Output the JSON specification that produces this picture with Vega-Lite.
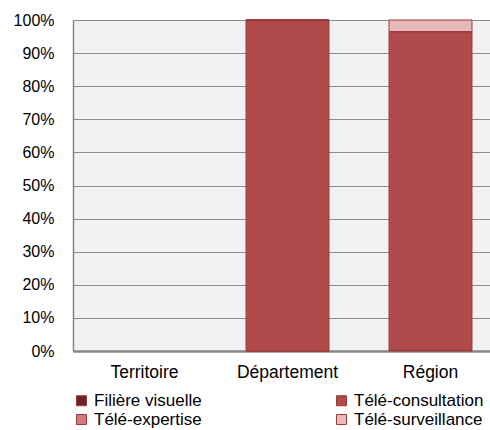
{
  "$schema": "https://vega.github.io/schema/vega-lite/v6.json",
  "autosize": {"type": "none"},
  "width": 417,
  "height": 331,
  "padding": {"left": 73, "top": 20, "right": 0, "bottom": 79},
  "background": "white",
  "config": {
    "font": "Liberation Sans",
    "view": {"fill": "#f2f2f2", "stroke": null}
  },
  "data": {
    "values": [
      {"zone": "Département", "type": "Filière visuelle", "value": 0},
      {"zone": "Département", "type": "Télé-consultation", "value": 1.0},
      {"zone": "Département", "type": "Télé-expertise", "value": 0},
      {"zone": "Département", "type": "Télé-surveillance", "value": 0},
      {"zone": "Région", "type": "Filière visuelle", "value": 0.002},
      {"zone": "Région", "type": "Télé-consultation", "value": 0.963},
      {"zone": "Région", "type": "Télé-expertise", "value": 0},
      {"zone": "Région", "type": "Télé-surveillance", "value": 0.035}
    ]
  },
  "transform": [
    {"calculate": "indexof(['Filière visuelle','Télé-consultation','Télé-expertise','Télé-surveillance'], datum.type)", "as": "ord"}
  ],
  "mark": {"type": "bar", "stroke": "#9a3a3b", "strokeWidth": 1},
  "encoding": {
    "x": {
      "field": "zone",
      "type": "nominal",
      "scale": {"domain": ["Territoire", "Département", "Région"], "range": [0, 429], "paddingInner": 0.42, "paddingOuter": 0.21},
      "axis": {"title": null, "labelAngle": 0, "labelFontSize": 17.5, "labelColor": "#000", "labelPadding": 12, "ticks": false, "domainColor": "#868686", "domainWidth": 2.5, "grid": false}
    },
    "y": {
      "field": "value",
      "type": "quantitative",
      "stack": "zero",
      "scale": {"domain": [0, 1]},
      "axis": {"title": null, "format": ".0%", "values": [0,0.1,0.2,0.3,0.4,0.5,0.6,0.7,0.8,0.9,1], "labelFontSize": 16, "labelColor": "#000", "labelPadding": 19, "ticks": false, "domainColor": "#868686", "domainWidth": 1.5, "grid": true, "gridColor": "#8c8c8c", "gridWidth": 1.2, "gridOpacity": 1}
    },
    "color": {
      "field": "type",
      "type": "nominal",
      "scale": {
        "domain": ["Filière visuelle", "Télé-consultation", "Télé-expertise", "Télé-surveillance"],
        "range": ["#6b2426", "#b14a4a", "#d27a79", "#e7b9b9"]
      },
      "legend": {
        "title": null,
        "orient": "none",
        "legendX": 0,
        "legendY": 372,
        "direction": "horizontal",
        "columns": 2,
        "columnPadding": 131,
        "rowPadding": 1,
        "symbolType": "square",
        "symbolSize": 100,
        "symbolStrokeColor": "#9a3a3b",
        "symbolStrokeWidth": 1,
        "labelFontSize": 17,
        "labelColor": "#000",
        "labelLimit": 300,
        "labelOffset": 4
      }
    },
    "order": {"field": "ord", "type": "quantitative"}
  }
}
